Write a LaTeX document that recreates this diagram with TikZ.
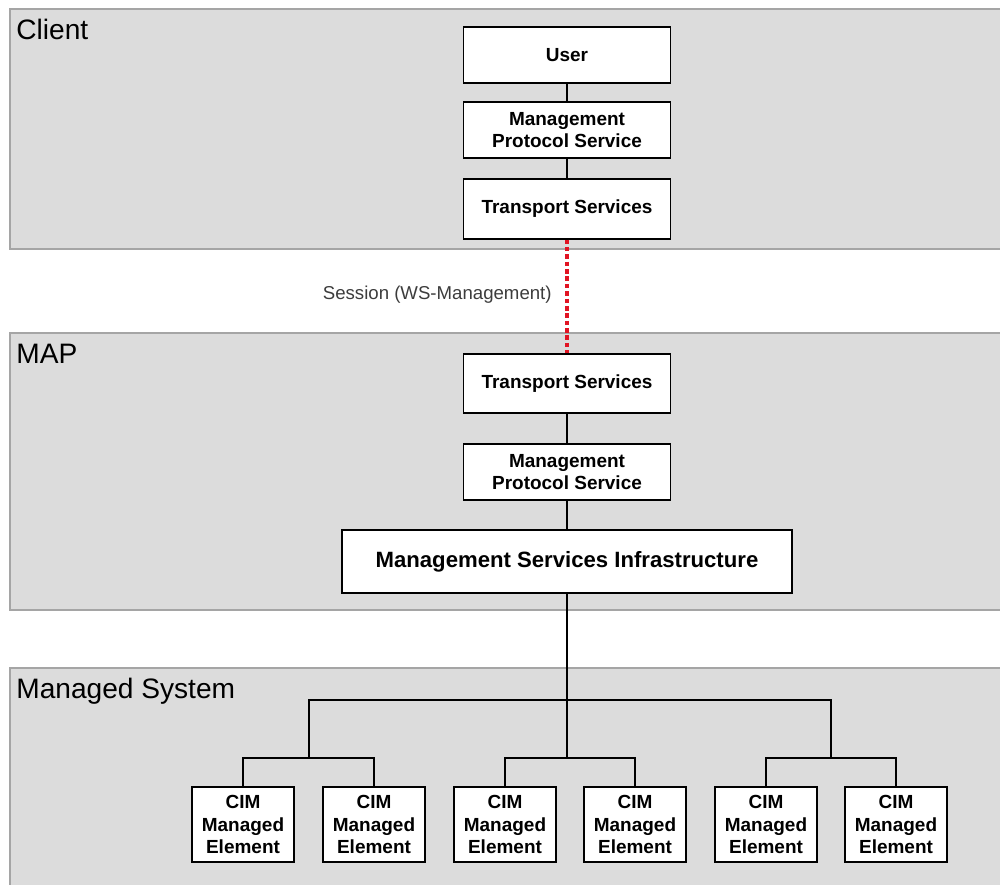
\documentclass[tikz,border=0pt]{standalone}
\usepackage{fontspec}
\setmainfont{Liberation Sans}
\usepackage{tikz}
\usetikzlibrary{calc,positioning}
\definecolor{panelgray}{RGB}{220,220,220}
\definecolor{panelline}{RGB}{165,165,165}
\definecolor{sessred}{RGB}{225,20,35}
\definecolor{sessgray}{RGB}{60,60,60}

\begin{document}
\begin{tikzpicture}[x=0.2mm,y=-0.2mm,
        panel/.style={fill=panelgray,draw=panelline,line width=0.8pt},
        paneltitle/.style={anchor=base west,inner sep=0pt,font=\fontsize{16}{19}\selectfont},
        svcbox/.style={draw,fill=white,line width=0.6pt,align=center,minimum width=41.4mm,
                       font=\bfseries\fontsize{10.8}{12.6}\selectfont},
        cimbox/.style={svcbox,minimum width=20.4mm,minimum height=15mm},
        link/.style={line width=0.6pt}]
                 \useasboundingbox (0,0) rectangle (1000,885);
                 % the three layers
                 \draw[panel] (10,9) rectangle (1004,249);
                 \draw[panel] (10,333) rectangle (1004,610);
                 \draw[panel] (10,668) rectangle (1004,890);
                 \node[paneltitle] (tclient) at (16,40) {Client};
                 \node[paneltitle] (tmap) at (16,364) {MAP};
                 \node[paneltitle] (tsys) at (16,698) {Managed System};
                 % client side
                 \node[svcbox,minimum height=11.2mm] (user) at (567,55) {User};
                 \node[svcbox,minimum height=11.2mm] (cmps) at (567,130) {Management\\Protocol Service};
                 \node[svcbox,minimum height=12mm] (cts) at (567,209) {Transport Services};
                 % MAP side
                 \node[svcbox,minimum height=11.8mm] (mts) at (567,383.5) {Transport Services};
                 \node[svcbox,minimum height=11.2mm] (mmps) at (567,472) {Management\\Protocol Service};
                 \node[svcbox,minimum width=90mm,minimum height=12.6mm,
                       font=\bfseries\fontsize{12.6}{15}\selectfont] (msi) at (567,561.5) {Management Services Infrastructure};
                 % managed elements
                 \foreach \i/\x in {1/243,2/374,3/505,4/635,5/766,6/896}
                   \node[cimbox] (ce\i) at (\x,824.5) {CIM\\Managed\\Element};
                 \draw[link] (user) -- (cmps);
                 \draw[link] (cmps) -- (cts);
                 \draw[link] (mts) -- (mmps);
                 \draw[link] (mmps) -- (msi);
                 \draw[sessred,line width=1.8pt,dash pattern=on 2.6pt off 1.6pt] (cts) -- (mts);
                 \node[anchor=east,inner sep=0pt,text=sessgray,font=\fontsize{10.6}{12}\selectfont]
                       (sess) at (552,295) {Session (WS-Management)};
                 % tree to the elements
                 \coordinate (hub) at (567,700);
                 \coordinate (jA) at (309,758);
                 \coordinate (jB) at (567,758);
                 \coordinate (jC) at (831,758);
                 \draw[link] (msi) -- (jB);
                 \draw[link] (jA) |- (hub) -| (jC);
                 \draw[link] (ce1.north) |- (jA) -| (ce2.north);
                 \draw[link] (ce3.north) |- (jB) -| (ce4.north);
                 \draw[link] (ce5.north) |- (jC) -| (ce6.north);
               \end{tikzpicture}
\end{document}
